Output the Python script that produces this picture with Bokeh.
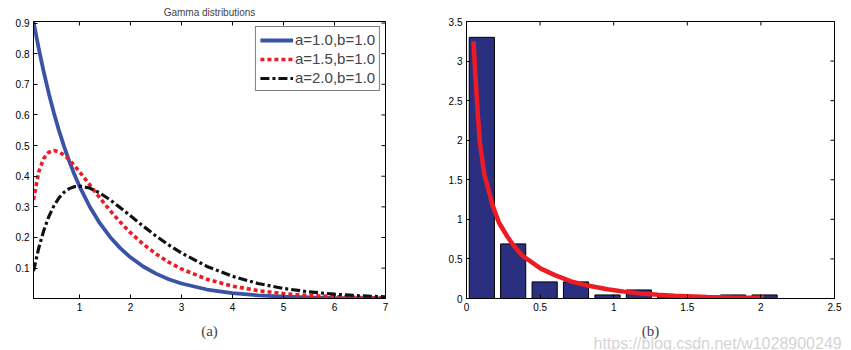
from bokeh.plotting import figure
from bokeh.layouts import row
from bokeh.models import (Range1d, FixedTicker, CustomJSTickFormatter,
                          Legend, LegendItem, Title)
from bokeh.embed import file_html
from bokeh.resources import INLINE
import math

# ---------------- data: panel (a) ----------------
x_pdf = [0.1, 0.2, 0.3, 0.4, 0.5, 0.6, 0.7, 0.8, 0.9, 1.0, 1.2, 1.4, 1.6, 1.8, 2.0,
         2.25, 2.5, 2.75, 3.0, 3.5, 4.0, 4.5, 5.0, 5.5, 6.0, 6.5, 7.0]
pdf_a10 = [0.9048, 0.8187, 0.7408, 0.6703, 0.6065, 0.5488, 0.4966, 0.4493, 0.4066, 0.3679,
           0.3012, 0.2466, 0.2019, 0.1653, 0.1353, 0.1054, 0.0821, 0.0639, 0.0498, 0.0302,
           0.0183, 0.0111, 0.0067, 0.0041, 0.0025, 0.0015, 0.0009]
pdf_a15 = [0.3229, 0.4131, 0.4578, 0.4784, 0.4839, 0.4797, 0.4689, 0.4535, 0.4353, 0.4151,
           0.3723, 0.3293, 0.2882, 0.2502, 0.2159, 0.1784, 0.1465, 0.1196, 0.0973, 0.0638,
           0.0413, 0.0266, 0.0170, 0.0108, 0.0069, 0.0043, 0.0027]
pdf_a20 = [0.0905, 0.1637, 0.2222, 0.2681, 0.3033, 0.3293, 0.3476, 0.3595, 0.3659, 0.3679,
           0.3614, 0.3452, 0.3230, 0.2975, 0.2707, 0.2371, 0.2052, 0.1757, 0.1494, 0.1057,
           0.0733, 0.0500, 0.0337, 0.0225, 0.0149, 0.0098, 0.0064]
legend_labels = ["a=1.0,b=1.0", "a=1.5,b=1.0", "a=2.0,b=1.0"]
a_xticks = [1, 2, 3, 4, 5, 6, 7]
a_yticks = [0.1, 0.2, 0.3, 0.4, 0.5, 0.6, 0.7, 0.8, 0.9]
a_title = "Gamma distributions"
a_caption = "(a)"

# ---------------- data: panel (b) ----------------
bin_centers = [0.104, 0.317, 0.531, 0.744, 0.958, 1.171, 1.385, 1.598, 1.811, 2.025]
bin_heights = [3.30, 0.69, 0.21, 0.21, 0.045, 0.108, 0.045, 0.0, 0.045, 0.045]
fit_x = [0.048, 0.061, 0.075, 0.09, 0.12, 0.177, 0.22, 0.278, 0.32, 0.38, 0.505, 0.6,
         0.71, 0.83, 0.958, 1.07, 1.184, 1.3, 1.41, 1.637, 1.8, 2.02]
fit_y = [3.25, 2.79, 2.39, 1.98, 1.58, 1.18, 0.96, 0.78, 0.67, 0.54, 0.377, 0.295,
         0.217, 0.16, 0.117, 0.087, 0.064, 0.048, 0.036, 0.02, 0.014, 0.008]
b_xticks = [0, 0.5, 1, 1.5, 2, 2.5]
b_yticks = [0, 0.5, 1, 1.5, 2, 2.5, 3, 3.5]
b_caption = "(b)"
watermark = "https://blog.csdn.net/w1028900249"

FONT = "Liberation Sans"
SERIF = "Liberation Serif"
fmt = CustomJSTickFormatter(code="return tick.toString();")


def style_axis(ax, ticks):
    ax.ticker = FixedTicker(ticks=ticks)
    ax.formatter = fmt
    ax.axis_line_color = "black"
    ax.axis_line_width = 1
    ax.major_tick_in = 4
    ax.major_tick_out = 0
    ax.major_tick_line_color = "black"
    ax.minor_tick_line_color = None
    ax.major_label_text_font = FONT
    ax.major_label_text_font_size = "10px"
    ax.major_label_text_color = "black"
    ax.major_label_standoff = 4


def make_fig(width, x0, x1, y0, y1, mbl, mbr, mbt, xticks, yticks, caption):
    p = figure(width=width, height=350, x_range=Range1d(x0, x1), y_range=Range1d(y0, y1),
               output_backend="svg", toolbar_location=None,
               min_border_left=mbl, min_border_right=mbr,
               min_border_top=mbt, min_border_bottom=52)
    p.grid.visible = False
    p.outline_line_color = "black"
    p.outline_line_width = 1
    p.background_fill_color = "white"
    p.border_fill_color = "white"
    style_axis(p.xaxis[0], xticks)
    style_axis(p.yaxis[0], yticks)
    p.xaxis[0].axis_label = caption
    p.xaxis[0].axis_label_text_font = SERIF
    p.xaxis[0].axis_label_text_font_style = "normal"
    p.xaxis[0].axis_label_text_font_size = "15px"
    p.xaxis[0].axis_label_standoff = 9
    # mirrored inward ticks on top and right edges (half of each dash is clipped by the frame)
    p.scatter(x=xticks, y=[y1] * len(xticks), marker="dash", size=8, angle=math.pi / 2,
              line_color="black", line_width=1)
    p.scatter(x=[x1] * len(yticks), y=yticks, marker="dash", size=8,
              line_color="black", line_width=1)
    return p


# ---------------- panel (a) ----------------
p1 = make_fig(425, 0.1, 7, 0.0009, 0.905, 33, 40, 20, a_xticks, a_yticks, a_caption)
p1.title.text = a_title
p1.title.align = "center"
p1.title.text_font = FONT
p1.title.text_font_size = "10px"
p1.title.text_font_style = "normal"
p1.title.standoff = 8

r1 = p1.line(x_pdf, pdf_a10, line_color="#3a53a4", line_width=3.8)
r2 = p1.line(x_pdf, pdf_a15, line_color="#ed1c24", line_width=3.6, line_dash="4 3")
r3 = p1.line(x_pdf, pdf_a20, line_color="#111111", line_width=3.2, line_dash="9 3 3 3")

leg = Legend(items=[LegendItem(label=legend_labels[0], renderers=[r1]),
                    LegendItem(label=legend_labels[1], renderers=[r2]),
                    LegendItem(label=legend_labels[2], renderers=[r3])],
             location="top_right")
leg.border_line_color = "black"
leg.border_line_width = 1
leg.label_text_font = FONT
leg.label_text_font_size = "15px"
leg.glyph_width = 33
leg.glyph_height = 16
leg.label_height = 16
leg.label_standoff = 2
leg.spacing = 2
leg.padding = 4
leg.margin = 5
p1.add_layout(leg)

# ---------------- panel (b) ----------------
p2 = make_fig(426, 0, 2.5, 0, 3.5, 41, 17, 7, b_xticks, b_yticks, b_caption)
p2.vbar(x=bin_centers, top=bin_heights, width=0.171, bottom=0,
        fill_color="#2b2f7f", line_color="black", line_width=1)
p2.line(fit_x, fit_y, line_color="#ed1c24", line_width=4.5)

wm = Title(text=watermark, align="left", offset=127, standoff=-18,
           text_font=FONT, text_font_size="16px", text_font_style="normal",
           text_color="#d4d4d4")
p2.add_layout(wm, "below")

layout = row(p1, p2)
open("out.html", "w").write(file_html(layout, INLINE))
